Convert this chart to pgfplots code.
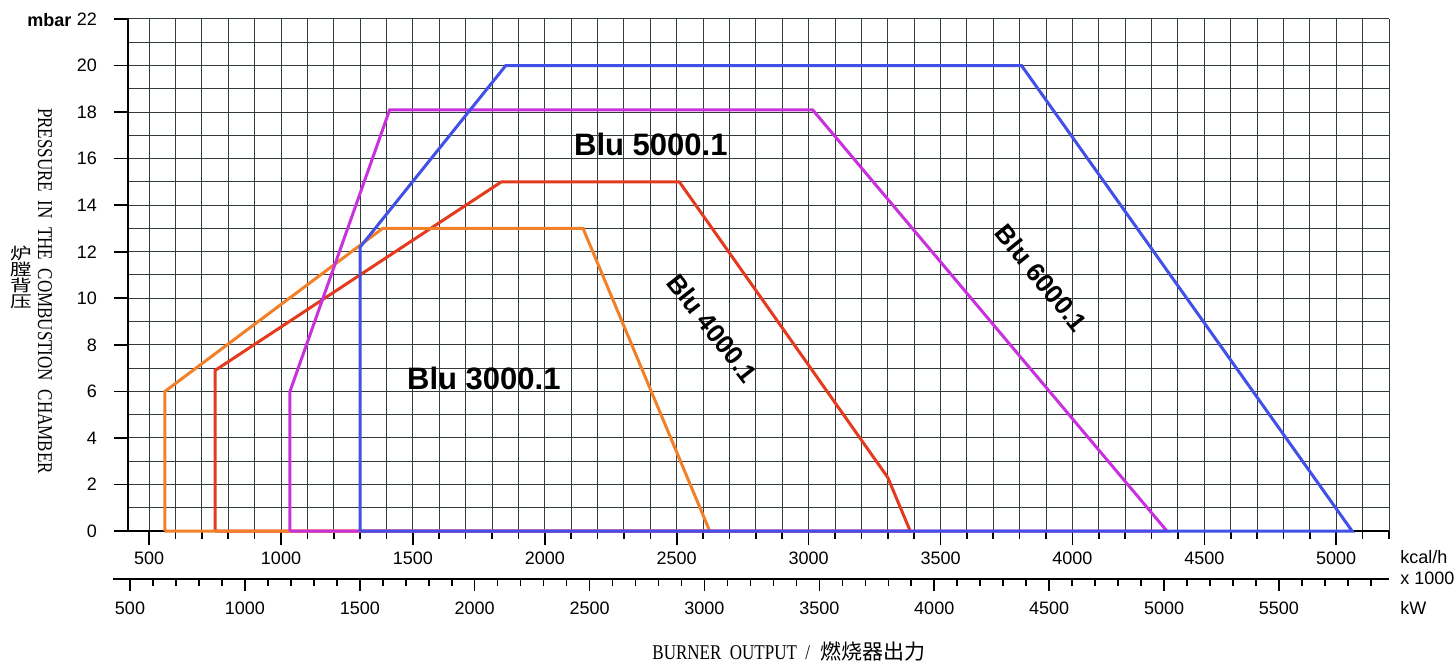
\documentclass[border=0pt]{standalone}
\usepackage{fontspec}
\setmainfont{Liberation Sans}
\newfontfamily\serifL{Liberation Serif}
\newfontfamily\cjk{Noto Sans CJK SC}
\usepackage{graphicx}
\usepackage{pgfplots}
\pgfplotsset{compat=1.18}
\definecolor{cOrange}{RGB}{242,128,40}
\definecolor{cRed}{RGB}{228,58,30}
\definecolor{cMag}{RGB}{200,50,220}
\definecolor{cBlue}{RGB}{65,80,230}
\definecolor{gridc}{RGB}{50,60,60}
\begin{document}
\begin{tikzpicture}
\begin{axis}[
  at={(0pt,0pt)}, anchor=south west,
  scale only axis, width=630.5pt, height=256pt,
  xmin=420, xmax=5200, ymin=0, ymax=22,
  axis lines*=left, axis line style={-, line width=1pt, black},
  clip=false,
  xtick={500,1000,...,5000},
  minor xtick={500,600,...,5200},
  ytick={0,2,...,22},
  minor ytick={1,3,...,21},
  grid=both,
  major grid style={gridc, line width=0.5pt},
  minor grid style={gridc, line width=0.5pt},
  tick align=outside,
  major tick length=7pt, minor tick length=4pt,
  tick style={black, line width=0.8pt},
  minor y tick style={draw=none},
  /pgf/number format/assume math mode=true,
  /pgf/number format/1000 sep={},
  ticklabel style={font=\fontsize{9}{10}\selectfont},
  yticklabel style={xshift=-5pt},
]
\addplot[cRed, line width=1.5pt] coordinates {(750,0) (750,6.9) (1835,15) (2510,15) (3300,2.3) (3385,0) (750,0)};
\addplot[cOrange, line width=1.5pt] coordinates {(560,0) (560,6) (1385,13) (2145,13) (2625,0) (560,0)};
\addplot[cMag, line width=1.5pt] coordinates {(1034,0) (1034,6) (1412,18.1) (3015,18.1) (4358,0) (1034,0)};
\addplot[cBlue, line width=1.5pt] coordinates {(1300,0) (1300,12.2) (1852,20) (3807,20) (5060,0) (1300,0)};
\node[font=\bfseries\fontsize{15.5}{17}\selectfont] at (axis cs:2402,16.59) {Blu 5000.1};
\node[font=\bfseries\fontsize{15.5}{17}\selectfont] at (axis cs:1769,6.57) {Blu 3000.1};
\node[font=\bfseries\fontsize{13}{15}\selectfont, rotate=-52] at (axis cs:2636,8.72) {Blu 4000.1};
\node[font=\bfseries\fontsize{13}{15}\selectfont, rotate=-51] at (axis cs:3883,10.87) {Blu 6000.1};
\end{axis}
\begin{axis}[
  at={(-7.5pt,-24pt)}, anchor=south west,
  scale only axis, width=638pt, height=10pt,
  xmin=426, xmax=5979, ymin=0, ymax=1,
  axis x line*=bottom, hide y axis,
  axis line style={-, line width=1pt, black},
  xtick={500,1000,...,5500},
  minor xtick={500,600,...,5900},
  tick align=outside,
  major tick length=6pt, minor tick length=3.5pt,
  tick style={black, line width=0.8pt},
  /pgf/number format/assume math mode=true,
  /pgf/number format/1000 sep={},
  ticklabel style={font=\fontsize{9}{10}\selectfont},
  xticklabel style={yshift=-2pt},
]
\end{axis}
\node[font=\bfseries\fontsize{9}{10}\selectfont] at (-39.25pt,255.5pt) {mbar};
\node[font=\fontsize{9}{10}\selectfont, anchor=west, inner sep=0pt] at (636pt,-13pt) {kcal/h};
\node[font=\fontsize{9}{10}\selectfont, anchor=west, inner sep=0pt] at (636pt,-23.5pt) {x 1000};
\node[font=\fontsize{9}{10}\selectfont, anchor=west, inner sep=0pt] at (636pt,-38.5pt) {kW};
\node[rotate=-90, inner sep=0pt] at (-41.5pt,120pt) {\scalebox{0.81}[1]{\serifL\fontsize{10.5}{12}\selectfont\spaceskip=0.5em PRESSURE IN THE COMBUSTION CHAMBER}};
\node[inner sep=0pt, align=center, font=\cjk\fontsize{8}{8}\selectfont] at (-53.5pt,127pt) {\scalebox{1.35}[1]{炉}\\\scalebox{1.35}[1]{膛}\\\scalebox{1.35}[1]{背}\\\scalebox{1.35}[1]{压}};
\node[anchor=west, inner sep=0pt] at (262pt,-60.5pt) {\scalebox{0.81}[1]{\serifL\fontsize{10.5}{12}\selectfont\spaceskip=0.5em BURNER OUTPUT /}\hspace{5pt}{\cjk\fontsize{10.5}{12}\selectfont 燃烧器出力}};
\pgfresetboundingbox
\path[use as bounding box] (-64pt,-66.5pt) rectangle (664pt,265.5pt);
\end{tikzpicture}
\end{document}
